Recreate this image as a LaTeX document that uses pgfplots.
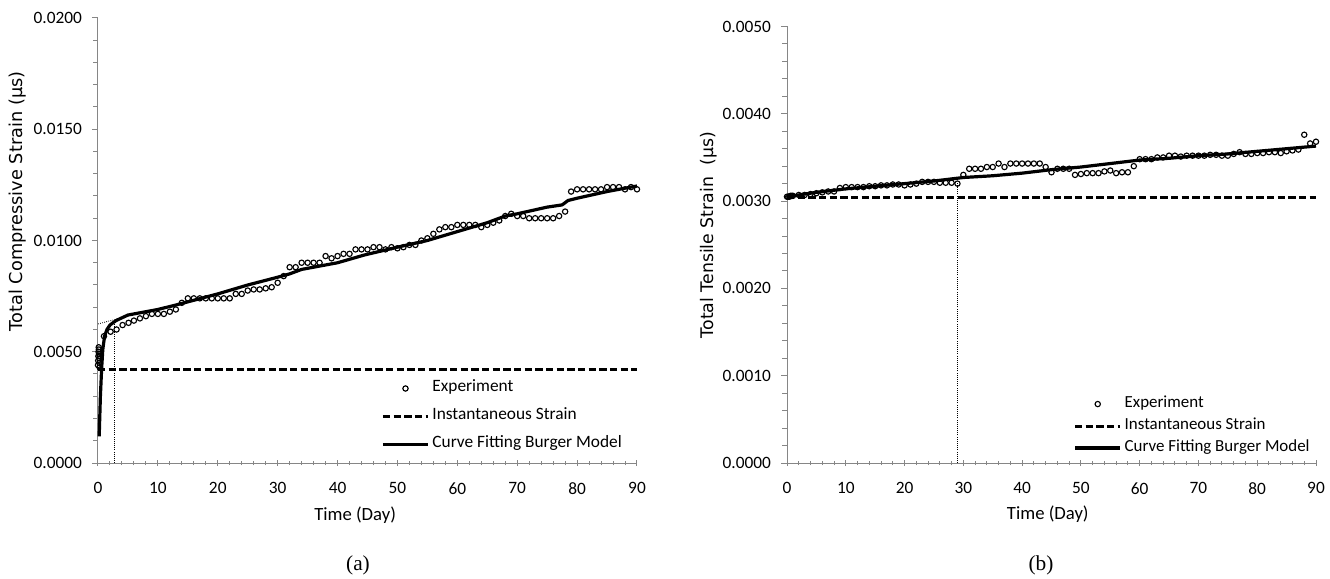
\documentclass[border=0pt]{standalone}
\usepackage{fontspec}
\setmainfont{Carlito}
\newfontfamily\labelfont{DejaVu Sans}
\newfontfamily\capfont{Liberation Serif}
\usepackage{pgfplots}
\pgfplotsset{compat=1.18}
\definecolor{axisgray}{HTML}{868686}

\pgfplotsset{
  creep/.style={
    scale only axis,
    axis x line=bottom, axis y line=left,
    axis line style={-, draw=axisgray, line width=0.75pt},
    xmin=0, xmax=90, xtick={0,10,...,90}, minor x tick num=4,
    minor y tick num=4, ymin=0,
    every tick/.style={draw=axisgray, line width=0.75pt},
    xtick align=center, ytick align=outside,
    major tick length=4.5pt, minor tick length=3.5pt,
    tick label style={font=\fontsize{13}{15}\selectfont},
    xticklabel style={yshift=-9pt},
    scaled y ticks=false,
    yticklabel style={xshift=-4pt, /pgf/number format/.cd, fixed, fixed zerofill, precision=4},
    /pgf/number format/assume math mode=true,
    clip=false,
    legend cell align=left,
    legend image code/.code={\draw[mark repeat=2,mark phase=2,##1] plot coordinates {(0pt,0pt) (17pt,0pt) (34pt,0pt)};},
    xlabel={Time (Day)},
    xlabel style={font=\fontsize{14}{16}\selectfont, anchor=center},
  },
  expt/.style={only marks, mark=o, mark size=2pt, line width=0.85pt, black},
  inst/.style={black, line width=2.25pt, dash pattern=on 5.5pt off 2.5pt},
  burger/.style={black, line width=2.4pt},
  guide/.style={black, line width=0.6pt, densely dotted, forget plot},
}

\begin{document}
\begin{tikzpicture}
\useasboundingbox (0,0) rectangle (997.5pt,433.5pt);

% (a) compressive
\begin{axis}[creep,
  at={(73.5pt,86.25pt)}, anchor=south west,
  width=404.25pt, height=333.75pt,
  ymax=0.02, ytick={0,0.005,...,0.02},
  ylabel={Total Compressive Strain (µs)},
  ylabel style={font=\labelfont\fontsize{13.3}{15}\selectfont, at={(axis description cs:-0.15,0.588)}, anchor=center, rotate=0},
  xlabel style={at={(axis description cs:0.477,-0.117)}},
  legend style={draw=none, fill=none, at={(0.525,0.189)}, anchor=north west, inner sep=0pt,
    font=\fontsize{13}{15}\selectfont, row sep=7pt,
    nodes={text height=0.75em, text depth=0.25em}},
]
\addplot[expt] coordinates {
 (0,0.0044) (0.03,0.0046) (0.06,0.0048) (0.09,0.0050) (0.12,0.0052) (0.15,0.0051)
 (0.18,0.0049) (0.21,0.0047) (0.24,0.0045) (0.27,0.0043) (0.3,0.0048)
 (1,0.0057) (2.1,0.0059) (3.1,0.0060) (4.1,0.0062) (5.1,0.0063) (6,0.0064) (7,0.0065)
 (8,0.0066) (9,0.0067) (10,0.0067) (11,0.0067) (12,0.0068) (13,0.0069) (14,0.0072)
 (15,0.0074) (16,0.0074) (17,0.0074) (18,0.0074) (19,0.0074) (20,0.0074) (21,0.0074)
 (22,0.0074) (23,0.0076) (24,0.0076) (25,0.00775) (26,0.0078) (27,0.0078) (28,0.00785)
 (29,0.0079) (30,0.0081) (31,0.0084) (32,0.0088) (33,0.0088) (34,0.0090) (35,0.0090)
 (36,0.0090) (37,0.0090) (38,0.0093) (39,0.0092) (40,0.0093) (41,0.0094) (42,0.0094)
 (43,0.0096) (44,0.0096) (45,0.0096) (46,0.0097) (47,0.0097) (48,0.0096) (49,0.0097)
 (50,0.00965) (51,0.0097) (52,0.0098) (53,0.0098) (54,0.0100) (55,0.0101) (56,0.0103)
 (57,0.0105) (58,0.0106) (59,0.0106) (60,0.0107) (61,0.0107) (62,0.0107) (63,0.0107)
 (64,0.0106) (65,0.0107) (66,0.0108) (67,0.0109) (68,0.0111) (69,0.0112) (70,0.0111)
 (71,0.0111) (72,0.0110) (73,0.0110) (74,0.0110) (75,0.0110) (76,0.0110) (77,0.0111)
 (78,0.0113) (79,0.0122) (80,0.0123) (81,0.0123) (82,0.0123) (83,0.0123) (84,0.0123)
 (85,0.0124) (86,0.0124) (87,0.0124) (88,0.0123) (89,0.0124) (90,0.0123)
};
\addlegendentry{Experiment}
\addplot[inst] coordinates {(0,0.00422) (90,0.00422)};
\addlegendentry{Instantaneous Strain}
\addplot[burger] coordinates {
 (0.2,0.0012) (0.4,0.0030) (0.6,0.0042) (0.8,0.0051) (1.1,0.0057) (1.5,0.0060)
 (2,0.0062) (3,0.0064) (5,0.00665) (10,0.0069) (13,0.0071) (20,0.0076) (25,0.0080)
 (30,0.00835) (32,0.0085) (34,0.0087) (40,0.0090) (44.5,0.00935) (50,0.0097)
 (55,0.0100) (60,0.0104) (65,0.0108) (68,0.0111) (70,0.0112) (75,0.0115)
 (77.5,0.0116) (78.5,0.0118) (80,0.0119) (85,0.0122) (90,0.01245)
};
\addlegendentry{Curve Fitting Burger Model}
\addplot[guide] coordinates {(2.8,0) (2.8,0.00643)};
\addplot[guide] coordinates {(0,0.00625) (4,0.00653)};
\end{axis}

% (b) tensile
\begin{axis}[creep,
  at={(590.25pt,86.25pt)}, anchor=south west,
  width=396.75pt, height=327.4pt,
  ymax=0.005, ytick={0,0.001,...,0.005},
  ylabel={Total Tensile Strain\ \ (µs)},
  ylabel style={font=\labelfont\fontsize{13}{15}\selectfont, at={(axis description cs:-0.148,0.522)}, anchor=center, rotate=0},
  xlabel style={at={(axis description cs:0.493,-0.117)}},
  legend style={draw=none, fill=none, at={(0.541,0.157)}, anchor=north west, inner sep=0pt,
    font=\fontsize{12.7}{14}\selectfont, row sep=2.5pt,
    nodes={text height=0.75em, text depth=0.25em}},
]
\addplot[expt] coordinates {
 (0,0.00305) (0.2,0.00305) (0.4,0.00305) (0.6,0.00306) (0.8,0.00306)
 (1,0.00306) (2,0.00307) (3,0.00307) (4,0.00308) (5,0.00309) (6,0.00310) (7,0.00311)
 (8,0.00311) (9,0.00315) (10,0.00316) (11,0.00316) (12,0.00316) (13,0.00316)
 (14,0.00317) (15,0.00317) (16,0.00318) (17,0.00318) (18,0.00319) (19,0.00319)
 (20,0.00318) (21,0.00319) (22,0.00320) (23,0.00322) (24,0.00322) (25,0.00322)
 (26,0.00321) (27,0.00321) (28,0.00321) (29,0.00320) (30,0.00330) (31,0.00337)
 (32,0.00337) (33,0.00337) (34,0.00339) (35,0.00339) (36,0.00343) (37,0.00339)
 (38,0.00343) (39,0.00343) (40,0.00343) (41,0.00343) (42,0.00343) (43,0.00343)
 (44,0.00339) (45,0.00333) (46,0.00337) (47,0.00337) (48,0.00337) (49,0.00330)
 (50,0.00331) (51,0.00332) (52,0.00332) (53,0.00332) (54,0.00334) (55,0.00335)
 (56,0.00332) (57,0.00333) (58,0.00333) (59,0.00340) (60,0.00348) (61,0.00348)
 (62,0.00348) (63,0.00350) (64,0.00350) (65,0.00352) (66,0.00352) (67,0.00351)
 (68,0.00352) (69,0.00352) (70,0.00352) (71,0.00352) (72,0.00353) (73,0.00353)
 (74,0.00352) (75,0.00352) (76,0.00354) (77,0.00356) (78,0.00354) (79,0.00354)
 (80,0.00355) (81,0.00355) (82,0.00356) (83,0.00356) (84,0.00355) (85,0.00357)
 (86,0.00358) (87,0.00359) (88,0.00376) (89,0.00366) (90,0.00368)
};
\addlegendentry{Experiment}
\addplot[inst] coordinates {(0,0.00304) (90,0.00304)};
\addlegendentry{Instantaneous Strain}
\addplot[burger] coordinates {
 (0,0.00305) (5,0.00310) (10,0.00314) (15,0.00317) (20,0.00320) (25,0.00323)
 (30,0.00327) (35,0.00329) (40,0.00332) (45,0.00336) (50,0.00339) (55,0.00343)
 (60,0.00347) (65,0.00349) (70,0.00352) (75,0.00354) (80,0.00357) (85,0.00360)
 (90,0.00363)
};
\addlegendentry{Curve Fitting Burger Model}
\addplot[guide] coordinates {(29,0) (29,0.00321)};
\end{axis}

\node[font=\capfont\fontsize{16}{18}\selectfont] at (268.5pt,9.75pt) {(a)};
\node[font=\capfont\fontsize{16}{18}\selectfont] at (780.75pt,9.75pt) {(b)};
\end{tikzpicture}
\end{document}
